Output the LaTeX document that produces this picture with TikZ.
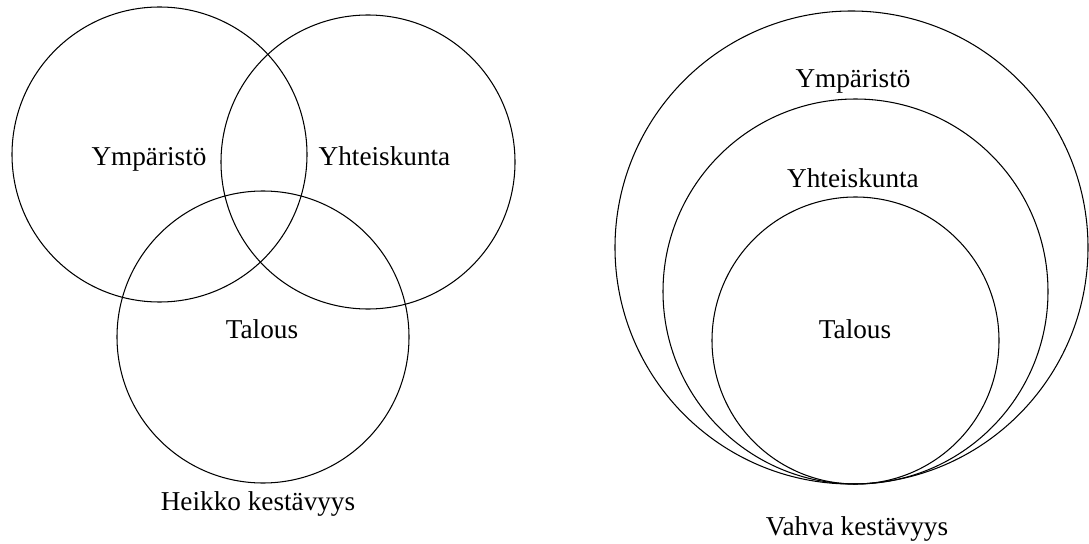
\documentclass[tikz,border=0pt]{standalone}
\usepackage{fontspec}
\setmainfont{Liberation Serif}
\usetikzlibrary{positioning}

\tikzset{
  ring/.style={draw, line width=0.6pt},
  lbl/.style={anchor=base, font=\fontsize{15.5}{18}\selectfont}
}

\begin{document}
\begin{tikzpicture}[x=0.02cm, y=-0.02cm]

\useasboundingbox (0,0) rectangle (1089,544);

%Weak sustainability
\coordinate (ymp) at (159.5,154.5);
\coordinate (yht) at (368,162);
\coordinate (tal) at (263,337);
\draw[ring] (ymp) circle (147.5);
\draw[ring] (yht) circle (147);
\draw[ring] (tal) circle (146);

\node[lbl] (ympl) at (149,166) {Ympäristö};
\node[lbl] (yhtl) at (384.5,166) {Yhteiskunta};
\node[lbl] (tall) at (262,338) {Talous};
\node[lbl] (heikko) at (258,510) {Heikko kestävyys};

%Strong sustainability
\coordinate (ymp2) at (851.5,247.5);
\coordinate (yht2) at (855.5,291.5);
\coordinate (tal2) at (855.5,340.5);
\draw[ring] (ymp2) circle (236.5);
\draw[ring] (yht2) circle (192.5);
\draw[ring] (tal2) circle (143.5);

\node[lbl] (ympl2) at (853,88) {Ympäristö};
\node[lbl] (yhtl2) at (853,188) {Yhteiskunta};
\node[lbl] (tall2) at (855,338) {Talous};
\node[lbl] (vahva) at (857,535) {Vahva kestävyys};

\end{tikzpicture}
\end{document}
